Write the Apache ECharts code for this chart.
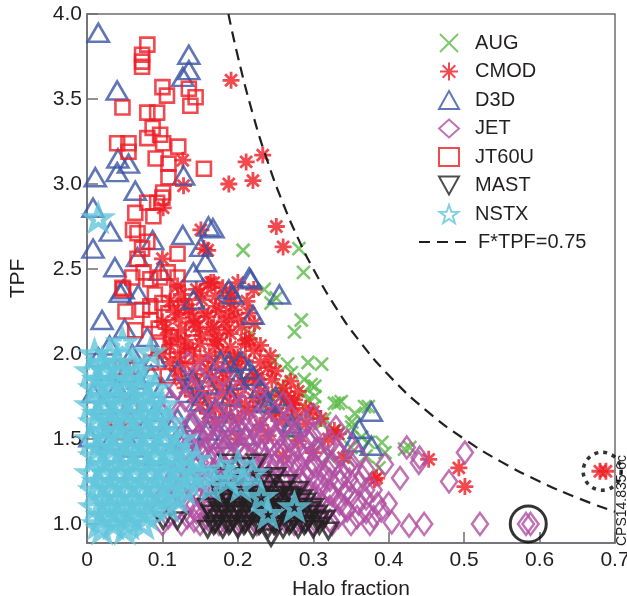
<!DOCTYPE html>
<html>
<head>
<meta charset="utf-8">
<script src="https://cdn.jsdelivr.net/npm/echarts@6/dist/echarts.min.js"></script>
<style>
  html, body { margin: 0; padding: 0; background: #fff; }
  #chart { width: 627px; height: 596px; }
</style>
</head>
<body>
<div id="chart"></div>
<script>
// 数据：横轴为 Halo fraction，纵轴为 TPF
const augData = [
  [0.207,2.61],[0.281,2.62],[0.287,2.48],[0.235,2.38],[0.244,2.30],[0.284,2.20],[0.275,2.13],[0.217,2.12],
  [0.251,2.33],[0.248,1.96],[0.266,1.94],[0.293,1.95],[0.311,1.94],[0.271,1.89],[0.288,1.85],[0.302,1.81],
  [0.257,1.81],[0.253,1.76],[0.288,1.77],[0.293,1.73],[0.301,1.69],[0.297,1.82],[0.302,1.75],[0.328,1.71],
  [0.333,1.71],[0.355,1.65],[0.368,1.69],[0.373,1.69],[0.337,1.72],[0.311,1.59],[0.328,1.55],[0.351,1.57],
  [0.351,1.60],[0.315,1.62],[0.275,1.61],[0.253,1.65],[0.293,1.65],[0.333,1.53],[0.364,1.51],[0.373,1.48],
  [0.391,1.48],[0.395,1.42],[0.387,1.33],[0.421,1.44],[0.428,1.45],[0.232,1.74],[0.240,1.66],
  [0.270,1.52],[0.310,1.47],[0.350,1.45],[0.345,1.38],[0.370,1.40],[0.320,1.40]
];

const cmodData = [
  [0.191,3.61],[0.211,3.13],[0.233,3.17],[0.220,3.02],[0.188,3.00],[0.127,3.14],[0.128,2.99],[0.251,2.75],
  [0.260,2.63],[0.151,2.73],[0.155,2.62],[0.101,2.86],[0.100,2.56],[0.164,2.42],[0.221,2.38],[0.160,2.61],
  [0.168,2.42],[0.191,2.34],[0.188,2.22],[0.168,2.16],[0.141,2.22],[0.215,2.09],[0.173,2.08],[0.240,1.92],
  [0.195,1.98],[0.227,1.85],[0.257,1.75],[0.271,1.71],[0.275,1.73],[0.333,1.53],[0.328,1.55],[0.381,1.26],
  [0.384,1.27],[0.453,1.38],[0.493,1.33],[0.501,1.22],[0.680,1.31],[0.688,1.31],[0.028,1.58],
  [0.120,2.40],[0.145,2.38],[0.160,2.41],[0.180,2.39],[0.200,2.42],
  [0.110,2.31],[0.130,2.29],[0.152,2.32],[0.171,2.28],[0.190,2.30],[0.212,2.31],
  [0.100,2.19],[0.122,2.21],[0.142,2.18],[0.160,2.22],[0.182,2.19],[0.200,2.21],[0.222,2.18],
  [0.112,2.10],[0.130,2.08],[0.152,2.11],[0.170,2.09],[0.190,2.12],[0.210,2.08],
  [0.100,2.00],[0.121,1.98],[0.140,2.02],[0.162,1.99],[0.180,2.01],[0.200,1.98],[0.222,2.02],[0.243,1.99],
  [0.120,1.90],[0.142,1.88],[0.160,1.91],[0.180,1.89],[0.200,1.92],[0.221,1.88],[0.250,1.90],
  [0.130,1.80],[0.150,1.78],[0.172,1.81],[0.190,1.79],[0.210,1.82],[0.230,1.78],[0.260,1.80],[0.280,1.78],
  [0.150,1.70],[0.170,1.68],[0.190,1.71],[0.210,1.69],[0.230,1.72],[0.250,1.68],[0.272,1.70],[0.290,1.68],
  [0.170,1.60],[0.200,1.62],[0.230,1.58],[0.260,1.61],[0.290,1.59],[0.310,1.62],
  [0.200,1.50],[0.240,1.52],[0.280,1.49],[0.320,1.50],
  [0.260,1.40],[0.300,1.42],[0.340,1.39],
  [0.125,2.35],[0.150,2.36],[0.170,2.34],[0.190,2.36],
  [0.115,2.25],[0.135,2.26],[0.155,2.24],[0.175,2.25],[0.195,2.26],[0.215,2.24],
  [0.105,2.15],[0.125,2.14],[0.145,2.16],[0.165,2.15],[0.185,2.14],[0.205,2.16],
  [0.110,2.05],[0.130,2.04],[0.150,2.06],[0.170,2.05],[0.190,2.04],[0.210,2.06],[0.230,2.05],
  [0.110,1.95],[0.130,1.94],[0.150,1.96],[0.170,1.95],[0.190,1.94],[0.210,1.96],[0.230,1.95],
  [0.125,1.85],[0.145,1.84],[0.165,1.86],[0.185,1.85],[0.205,1.84],[0.225,1.86],[0.245,1.85],[0.270,1.84],
  [0.140,1.75],[0.160,1.74],[0.180,1.76],[0.200,1.75],[0.220,1.74],[0.240,1.76],[0.265,1.75],
  [0.160,1.65],[0.185,1.64],[0.215,1.66],[0.245,1.65],[0.275,1.64],[0.300,1.66]
];

const d3dData = [
  [0.015,3.89],[0.040,3.55],[0.135,3.76],[0.135,3.67],[0.127,3.63],[0.041,3.15],[0.055,3.12],[0.040,3.07],
  [0.011,3.04],[0.008,2.86],[0.064,2.96],[0.128,3.05],[0.031,2.72],[0.008,2.62],[0.127,2.70],[0.161,2.75],
  [0.151,2.63],[0.087,2.67],[0.067,2.57],[0.037,2.51],[0.157,2.54],[0.141,2.48],[0.215,2.45],[0.188,2.38],
  [0.255,2.35],[0.048,2.38],[0.097,2.49],[0.167,2.74],[0.217,2.44],[0.220,2.23],[0.188,1.95],
  [0.204,1.96],[0.215,1.91],[0.235,1.72],[0.044,2.36],[0.068,2.35],[0.141,2.32],[0.193,2.35],
  [0.015,1.98],[0.051,1.89],[0.008,1.77],[0.068,1.85],[0.133,1.77],[0.177,1.96],[0.220,1.87],
  [0.240,1.71],[0.271,1.59],[0.004,1.51],[0.031,1.49],[0.057,1.61],[0.377,1.66],[0.361,1.56],[0.377,1.46],
  [0.353,1.48],[0.271,1.57],
  [0.020,2.20],[0.050,2.15],[0.080,2.10],[0.030,2.05],[0.060,2.00],[0.090,1.98],[0.025,1.90],[0.085,1.88],
  [0.040,1.80],[0.100,1.80],[0.020,1.70],[0.060,1.72],[0.090,1.66],[0.035,1.62],[0.075,1.56],[0.100,1.52],
  [0.120,1.62],[0.120,1.90],[0.140,1.85],[0.160,1.82],[0.150,1.72],[0.170,1.68],[0.190,1.75],[0.200,1.85],
  [0.230,1.80],[0.250,1.75],[0.140,1.60],[0.160,1.55],[0.190,1.60],[0.210,1.52],[0.130,1.50],[0.110,1.42],
  [0.150,1.45],[0.180,1.50],[0.090,1.40],[0.060,1.45]
];

const jetData = [
  [0.133,1.95],[0.160,1.93],[0.147,1.86],[0.180,1.87],
  [0.120,1.80],[0.140,1.79],[0.170,1.81],[0.200,1.78],[0.230,1.80],
  [0.110,1.72],[0.130,1.73],[0.155,1.71],[0.180,1.72],[0.205,1.70],[0.230,1.73],[0.260,1.71],
  [0.100,1.64],[0.125,1.65],[0.150,1.63],[0.175,1.65],[0.200,1.64],[0.225,1.62],[0.250,1.65],[0.271,1.63],[0.300,1.64],
  [0.110,1.56],[0.135,1.57],[0.160,1.55],[0.185,1.57],[0.210,1.56],[0.235,1.54],[0.260,1.57],[0.285,1.56],[0.310,1.55],[0.330,1.57],
  [0.120,1.48],[0.145,1.49],[0.170,1.47],[0.195,1.49],[0.220,1.48],[0.245,1.46],[0.270,1.49],[0.295,1.48],[0.320,1.47],[0.345,1.49],
  [0.110,1.40],[0.135,1.41],[0.160,1.39],[0.185,1.41],[0.210,1.40],[0.235,1.38],[0.260,1.41],[0.285,1.40],[0.310,1.39],[0.335,1.41],[0.360,1.40],
  [0.120,1.32],[0.145,1.33],[0.170,1.31],[0.195,1.33],[0.220,1.32],[0.245,1.30],[0.270,1.33],[0.295,1.32],[0.320,1.31],[0.345,1.33],[0.370,1.32],
  [0.110,1.24],[0.135,1.25],[0.160,1.23],[0.185,1.25],[0.210,1.24],[0.235,1.22],[0.260,1.25],[0.285,1.24],[0.310,1.23],[0.335,1.25],[0.360,1.24],[0.380,1.20],
  [0.100,1.16],[0.125,1.17],[0.150,1.15],[0.175,1.17],[0.200,1.16],[0.225,1.14],[0.250,1.17],[0.275,1.16],[0.300,1.15],[0.325,1.17],[0.350,1.16],[0.370,1.15],
  [0.095,1.08],[0.120,1.09],[0.145,1.07],[0.170,1.09],[0.195,1.08],[0.220,1.06],[0.245,1.09],[0.270,1.08],[0.295,1.07],[0.320,1.09],[0.345,1.08],[0.370,1.07],[0.390,1.08],
  [0.100,1.00],[0.125,1.00],[0.150,1.00],[0.175,1.00],[0.200,1.00],[0.225,1.00],[0.250,1.00],[0.275,1.00],[0.300,1.00],
  [0.325,1.00],[0.350,1.00],[0.375,1.00],[0.404,1.01],[0.427,0.99],[0.447,1.00],[0.521,1.00],[0.582,1.00],[0.588,1.00],
  [0.424,1.45],[0.441,1.39],[0.480,1.25],[0.501,1.42],[0.415,1.27],[0.400,1.12],[0.440,1.36],[0.395,1.35],
  [0.108,1.04],[0.133,1.04],[0.158,1.04],[0.183,1.04],[0.208,1.04],[0.233,1.04],[0.258,1.04],[0.283,1.04],[0.308,1.04],[0.333,1.04],[0.358,1.04],[0.380,1.04],
  [0.110,1.12],[0.135,1.12],[0.160,1.12],[0.185,1.12],[0.210,1.12],[0.235,1.12],[0.260,1.12],[0.285,1.12],[0.310,1.12],[0.335,1.12],[0.360,1.12],[0.385,1.12],
  [0.120,1.20],[0.145,1.20],[0.170,1.20],[0.195,1.20],[0.220,1.20],[0.245,1.20],[0.270,1.20],[0.295,1.20],[0.320,1.20],[0.345,1.20],[0.370,1.20],
  [0.115,1.28],[0.140,1.28],[0.165,1.28],[0.190,1.28],[0.215,1.28],[0.240,1.28],[0.265,1.28],[0.290,1.28],[0.315,1.28],[0.340,1.28],[0.365,1.28],
  [0.125,1.36],[0.150,1.36],[0.175,1.36],[0.200,1.36],[0.225,1.36],[0.250,1.36],[0.275,1.36],[0.300,1.36],[0.325,1.36],[0.350,1.36],
  [0.130,1.44],[0.155,1.44],[0.180,1.44],[0.205,1.44],[0.230,1.44],[0.255,1.44],[0.280,1.44],[0.305,1.44],[0.330,1.44],
  [0.125,1.52],[0.150,1.52],[0.175,1.52],[0.200,1.52],[0.225,1.52],[0.250,1.52],[0.275,1.52],[0.300,1.52],
  [0.140,1.60],[0.165,1.60],[0.190,1.60],[0.215,1.60],[0.240,1.60],[0.265,1.60],[0.290,1.60],
  [0.142,1.02],[0.162,1.02],[0.182,1.02],[0.202,1.02],[0.222,1.02],[0.242,1.02],[0.262,1.02],[0.282,1.02],[0.302,1.02],[0.322,1.02],
  [0.140,1.10],[0.160,1.10],[0.180,1.10],[0.200,1.10],[0.220,1.10],[0.240,1.10],[0.262,1.10],[0.282,1.10],[0.302,1.10],[0.322,1.10],[0.342,1.10],
  [0.142,1.18],[0.162,1.18],[0.182,1.18],[0.202,1.18],[0.222,1.18],[0.242,1.18],[0.262,1.18],[0.282,1.18],[0.302,1.18],[0.322,1.18],[0.342,1.18],
  [0.140,1.26],[0.160,1.26],[0.180,1.26],[0.200,1.26],[0.220,1.26],[0.242,1.26],[0.262,1.26],[0.282,1.26],[0.302,1.26],[0.322,1.26],[0.348,1.26],
  [0.142,1.34],[0.162,1.34],[0.182,1.34],[0.202,1.34],[0.222,1.34],[0.242,1.34],[0.262,1.34],[0.282,1.34],[0.302,1.34],[0.322,1.34],
  [0.150,1.42],[0.170,1.42],[0.190,1.42],[0.212,1.42],[0.232,1.42],[0.252,1.42],[0.272,1.42],[0.292,1.42],[0.312,1.42],
  [0.150,1.50],[0.170,1.50],[0.190,1.50],[0.212,1.50],[0.232,1.50],[0.252,1.50],[0.272,1.50],[0.292,1.50],
  [0.160,1.58],[0.180,1.58],[0.200,1.58],[0.222,1.58],[0.242,1.58],[0.262,1.58]
];

const jt60uData = [
  [0.080,3.82],[0.073,3.76],[0.073,3.72],[0.073,3.69],[0.100,3.57],[0.106,3.52],[0.135,3.56],[0.144,3.51],
  [0.137,3.46],[0.047,3.45],[0.080,3.42],[0.093,3.42],[0.087,3.33],[0.097,3.29],[0.040,3.24],[0.055,3.24],
  [0.055,3.19],[0.080,3.27],[0.101,3.24],[0.121,3.22],[0.091,3.15],[0.108,3.12],[0.155,3.09],[0.108,3.04],
  [0.101,2.95],[0.080,2.89],[0.093,2.89],[0.100,2.92],[0.064,2.83],[0.088,2.81],[0.061,2.73],[0.067,2.71],
  [0.080,2.66],[0.073,2.62],[0.067,2.56],[0.120,2.59],[0.060,2.45],[0.047,2.39],[0.075,2.48],[0.084,2.44],
  [0.097,2.45],[0.107,2.48],[0.120,2.45],[0.048,2.38],[0.051,2.25],[0.073,2.26],[0.084,2.20],[0.064,2.14],
  [0.108,2.24],[0.133,1.99],[0.047,1.92],[0.107,1.87],[0.111,2.10],[0.084,2.28],[0.053,1.92],[0.057,1.69],
  [0.060,1.55],[0.041,1.54],[0.064,1.51],[0.090,2.35],[0.100,2.30],[0.120,2.35],[0.130,2.28],[0.095,2.15],
  [0.120,2.05],[0.140,2.15],[0.085,1.95],[0.095,2.05]
];

const mastData = [
  [0.101,1.02],[0.120,1.02],[0.170,1.00],[0.190,1.00],[0.210,1.00],[0.230,1.00],[0.250,1.00],[0.270,1.00],
  [0.290,1.00],[0.307,1.02],[0.320,0.96],
  [0.160,0.97],[0.180,0.97],[0.200,0.97],[0.220,0.97],[0.240,0.97],[0.260,0.97],[0.280,0.97],[0.300,0.97],
  [0.165,1.06],[0.185,1.06],[0.205,1.06],[0.225,1.06],[0.245,1.06],[0.265,1.06],[0.285,1.06],[0.305,1.06],
  [0.170,1.13],[0.190,1.13],[0.210,1.13],[0.230,1.13],[0.250,1.13],[0.270,1.13],[0.290,1.13],
  [0.175,1.20],[0.200,1.20],[0.220,1.20],[0.240,1.20],[0.260,1.20],[0.280,1.20],
  [0.180,1.28],[0.200,1.28],[0.231,1.26],[0.250,1.28],
  [0.187,1.36],[0.208,1.34],[0.225,1.36],[0.271,1.16],[0.244,0.92],
  [0.175,1.03],[0.195,1.03],[0.215,1.03],[0.235,1.03],[0.255,1.03],[0.275,1.03],[0.295,1.03],[0.315,1.03],
  [0.160,1.10],[0.180,1.10],[0.200,1.10],[0.220,1.10],[0.240,1.10],[0.260,1.10],[0.280,1.10],[0.300,1.10],
  [0.185,1.17],[0.210,1.17],[0.230,1.17],[0.250,1.17],[0.270,1.17],
  [0.190,1.24],[0.215,1.24],[0.240,1.24],[0.265,1.24],
  [0.168,0.99],[0.188,0.99],[0.208,0.99],[0.228,0.99],[0.248,0.99],[0.268,0.99],[0.288,0.99],[0.308,0.99],
  [0.175,1.08],[0.195,1.08],[0.215,1.08],[0.235,1.08],[0.255,1.08],[0.275,1.08],[0.295,1.08],
  [0.180,1.15],[0.200,1.15],[0.220,1.15],[0.240,1.15],[0.260,1.15],[0.285,1.15]
];

const nstxData = [
  [0.015,2.80],[0.047,2.07],[0.084,2.01],[0.010,2.00],[0.030,2.00],
  [0.005,1.90],[0.025,1.90],[0.045,1.90],[0.065,1.90],
  [0.010,1.80],[0.030,1.80],[0.050,1.80],[0.070,1.80],[0.090,1.80],
  [0.005,1.70],[0.025,1.70],[0.045,1.70],[0.065,1.70],[0.085,1.70],[0.100,1.70],
  [0.010,1.60],[0.030,1.60],[0.050,1.60],[0.070,1.60],[0.090,1.60],[0.110,1.60],
  [0.005,1.50],[0.025,1.50],[0.045,1.50],[0.065,1.50],[0.085,1.50],[0.105,1.50],[0.125,1.50],
  [0.010,1.40],[0.030,1.40],[0.050,1.40],[0.070,1.40],[0.090,1.40],[0.110,1.40],[0.130,1.40],
  [0.005,1.30],[0.025,1.30],[0.045,1.30],[0.065,1.30],[0.085,1.30],[0.105,1.30],[0.125,1.30],[0.140,1.30],
  [0.010,1.20],[0.030,1.20],[0.050,1.20],[0.070,1.20],[0.090,1.20],[0.110,1.20],[0.130,1.20],
  [0.010,1.10],[0.030,1.10],[0.050,1.10],[0.070,1.10],[0.090,1.10],[0.108,1.10],
  [0.015,1.00],[0.035,1.00],[0.055,1.00],[0.075,1.00],[0.020,0.97],[0.050,0.97],
  [0.151,1.30],[0.177,1.32],[0.204,1.22],[0.231,1.16],[0.240,1.06],[0.275,1.10],[0.164,1.22],[0.187,1.26],
  [0.200,1.35],[0.220,1.30],
  [0.020,1.95],[0.040,1.95],[0.060,1.95],
  [0.015,1.85],[0.035,1.85],[0.055,1.85],[0.075,1.85],
  [0.020,1.75],[0.040,1.75],[0.060,1.75],[0.080,1.75],
  [0.015,1.65],[0.035,1.65],[0.055,1.65],[0.075,1.65],[0.095,1.65],
  [0.020,1.55],[0.040,1.55],[0.060,1.55],[0.080,1.55],[0.100,1.55],
  [0.015,1.45],[0.035,1.45],[0.055,1.45],[0.075,1.45],[0.095,1.45],[0.118,1.45],
  [0.020,1.35],[0.040,1.35],[0.060,1.35],[0.080,1.35],[0.100,1.35],[0.120,1.35],[0.145,1.38],
  [0.015,1.25],[0.035,1.25],[0.055,1.25],[0.075,1.25],[0.095,1.25],[0.115,1.25],[0.135,1.25],
  [0.020,1.15],[0.040,1.15],[0.060,1.15],[0.080,1.15],[0.100,1.15],[0.120,1.15],
  [0.020,1.05],[0.040,1.05],[0.060,1.05],[0.080,1.05]
];

// F*TPF=0.75 曲线的采样点（横坐标），纵坐标由关系式求出
const limitF = [0.1875, 0.2, 0.22, 0.24, 0.26, 0.28, 0.3, 0.33, 0.36, 0.4, 0.45, 0.5, 0.55, 0.6, 0.65, 0.7];
const limitProduct = 0.75;

// 图中圈出的两个点
const solidCircle = [[0.585, 1.0]];
const dottedCircle = [[0.683, 1.31]];

const yTicks = [1.0, 1.5, 2.0, 2.5, 3.0, 3.5, 4.0];

const FONT = '"Liberation Sans", Arial, Helvetica, sans-serif';
const TEXT = '#231f20';

const SYM_X = 'path://M0,0L10,10M10,0L0,10';
const SYM_AST = 'path://M5,0L5,10M0,5L10,5M1.5,1.5L8.5,8.5M8.5,1.5L1.5,8.5';
const SYM_DOWN = 'path://M0,0L10,0L5,9Z';
const SYM_STAR = 'path://M10,0L12.35,6.76L19.51,6.91L13.8,11.24L15.88,18.09L10,14L4.12,18.09L6.2,11.24L0.49,6.91L7.65,6.76Z';

function scatter(name, data, symbol, size, color, width) {
  return {
    name: name,
    type: 'scatter',
    data: data,
    symbol: symbol,
    symbolSize: size,
    itemStyle: { color: 'rgba(0,0,0,0)', borderColor: color, borderWidth: width },
    emphasis: { disabled: true }
  };
}

function init() {
  const chart = echarts.init(document.getElementById('chart'));

  const limitLine = limitF.map(function (f) { return [f, limitProduct / f]; });

  const option = {
    animation: false,
    backgroundColor: '#fff',
    grid: {
      left: 87, right: 12, top: 14, bottom: 53,
      outerBoundsMode: 'none',
      show: true, borderColor: '#6d6e71', borderWidth: 1.5, backgroundColor: 'transparent'
    },
    xAxis: {
      type: 'value', min: 0, max: 0.7, interval: 0.1,
      name: 'Halo fraction', nameLocation: 'middle', nameGap: 36,
      nameTextStyle: { fontFamily: FONT, fontSize: 21, color: TEXT },
      axisLine: { show: true, onZero: false, lineStyle: { color: '#6d6e71', width: 1.5 } },
      axisTick: { show: true, inside: true, length: 11, lineStyle: { color: '#6d6e71', width: 1.5 } },
      axisLabel: {
        fontFamily: FONT, fontSize: 21, color: TEXT, margin: 7,
        formatter: function (v) { return v === 0 ? '0' : v.toFixed(1); }
      },
      splitLine: { show: false }
    },
    yAxis: {
      type: 'value', min: 0.888, max: 4.0,
      name: 'TPF', nameLocation: 'middle', nameGap: 58,
      nameTextStyle: { fontFamily: FONT, fontSize: 21, color: TEXT },
      axisLine: { show: true, onZero: false, lineStyle: { color: '#6d6e71', width: 1.5 } },
      axisTick: { show: true, inside: true, length: 11, customValues: yTicks, lineStyle: { color: '#6d6e71', width: 1.5 } },
      axisLabel: {
        fontFamily: FONT, fontSize: 21, color: TEXT, margin: 5, customValues: yTicks,
        formatter: function (v) { return v.toFixed(1); }
      },
      splitLine: { show: false }
    },
    legend: [
      {
        data: ['AUG', 'CMOD', 'D3D', 'JET', 'JT60U', 'MAST', 'NSTX'],
        orient: 'vertical', left: 433, top: 28,
        itemWidth: 20, itemHeight: 18, itemGap: 8.5,
        formatter: '  {name}',
        textStyle: { fontFamily: FONT, fontSize: 20, color: TEXT },
        selectedMode: false
      },
      {
        data: ['F*TPF=0.75'],
        orient: 'vertical', left: 413, top: 227,
        itemWidth: 54, itemHeight: 14,
        itemStyle: { opacity: 0 },
        textStyle: { fontFamily: FONT, fontSize: 20, color: TEXT },
        selectedMode: false
      }
    ],
    series: [
      scatter('AUG', augData, SYM_X, 13, '#5db947', 2.6),
      scatter('CMOD', cmodData, SYM_AST, 17, '#ed1c24', 2.8),
      scatter('D3D', d3dData, 'triangle', [21, 18], '#3a54a4', 2.6),
      scatter('JET', jetData, 'diamond', [16, 22], '#b04fa1', 2.6),
      scatter('JT60U', jt60uData, 'rect', [14, 14], '#ed1c24', 2.6),
      scatter('MAST', mastData, SYM_DOWN, [19, 16], '#231f20', 2.8),
      scatter('NSTX', nstxData, SYM_STAR, [23, 22], '#62c5dc', 4.5),
      {
        name: 'F*TPF=0.75',
        type: 'line',
        data: limitLine,
        smooth: true,
        symbol: 'none',
        itemStyle: { color: '#231f20' },
        lineStyle: { color: '#231f20', width: 2.2, type: [11, 7] },
        emphasis: { disabled: true },
        z: 3
      },
      {
        type: 'scatter',
        data: solidCircle,
        symbol: 'circle',
        symbolSize: 36,
        itemStyle: { color: 'rgba(0,0,0,0)', borderColor: '#000', borderWidth: 3 },
        emphasis: { disabled: true },
        z: 4
      },
      {
        type: 'scatter',
        data: dottedCircle,
        symbol: 'circle',
        symbolSize: 38,
        itemStyle: { color: 'rgba(0,0,0,0)', borderColor: '#000', borderWidth: 3.5, borderType: [4, 5] },
        emphasis: { disabled: true },
        z: 4
      }
    ],
    graphic: [
      {
        type: 'text',
        left: 615, top: 455,
        rotation: Math.PI / 2,
        style: { text: 'CPS14.835-6c', fontFamily: FONT, fontSize: 14, fill: TEXT }
      }
    ]
  };

  chart.setOption(option);
}

window.addEventListener('DOMContentLoaded', init);
</script>
</body>
</html>
